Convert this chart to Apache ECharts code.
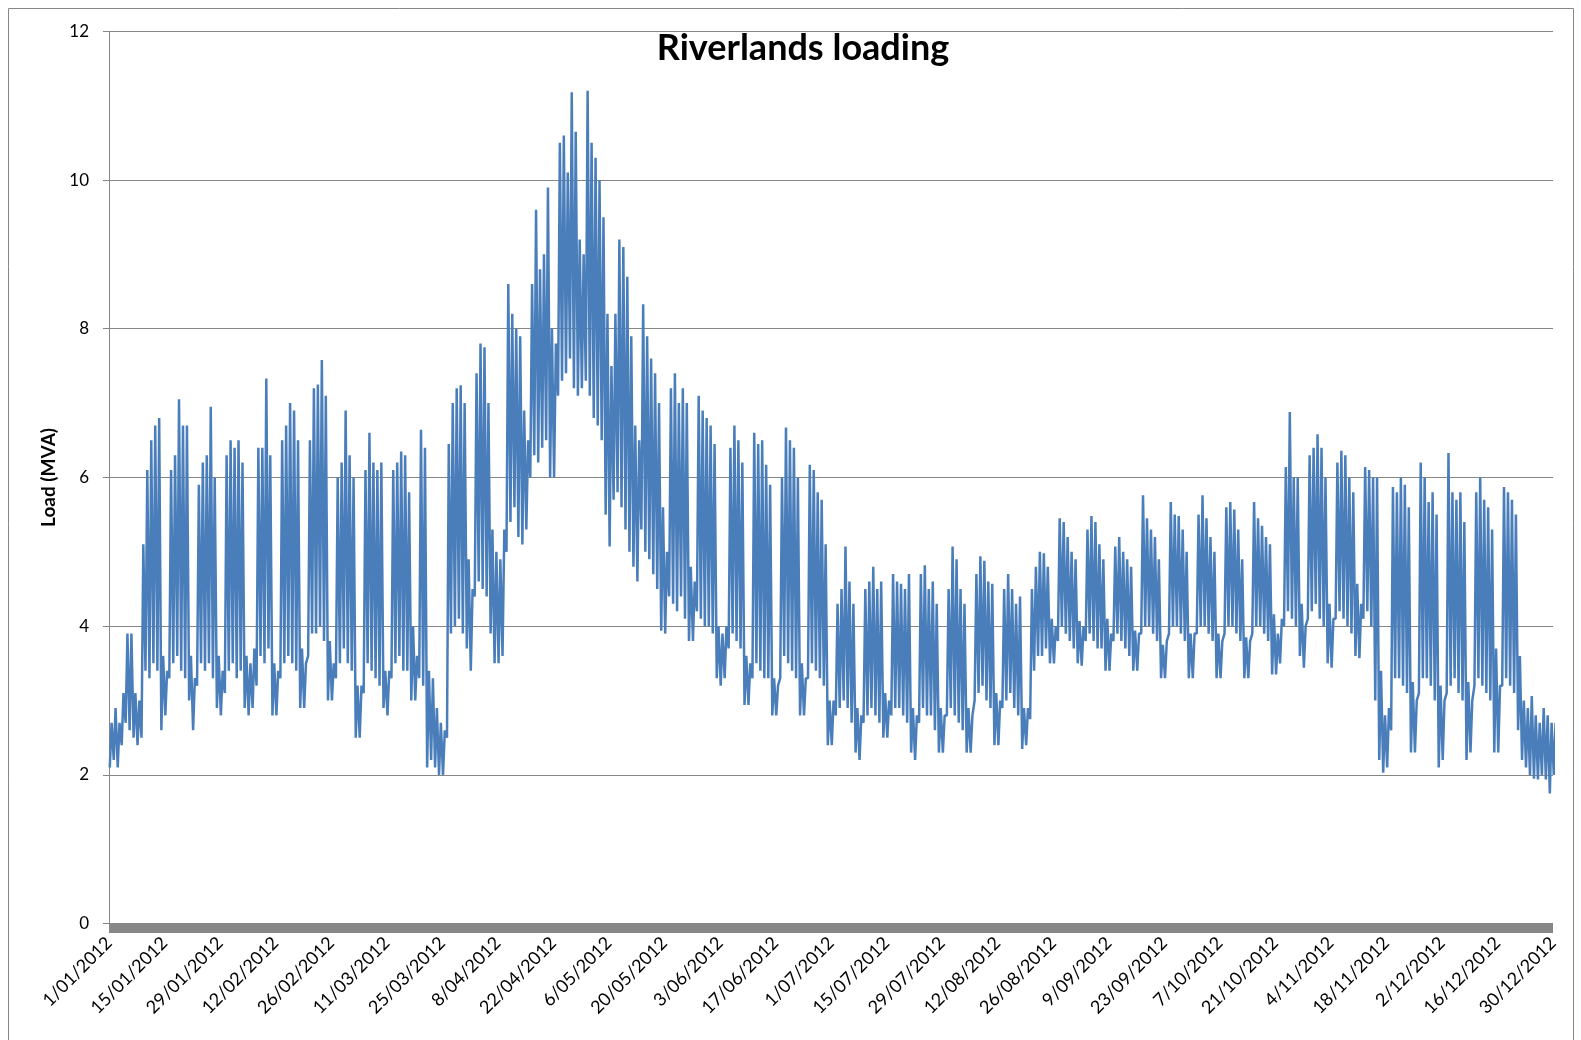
<!DOCTYPE html>
<html>
<head>
<meta charset="utf-8">
<script src="https://cdn.jsdelivr.net/npm/echarts@6/dist/echarts.min.js"></script>
<style>
html,body{margin:0;padding:0;background:#fff;}
#c{width:1581px;height:1040px;}
</style>
</head>
<body>
<div id="c"></div>
<script>
// Day index 0 = 1 Jan 2012. Daily low / high load (MVA).
const dailyLow = [
2.1,2.2,2.1,2.4,2.7,2.6,2.5,
2.4,2.5,3.4,3.3,3.5,3.4,2.6,
2.8,3.3,3.5,3.6,3.4,3.3,3.0,
2.6,3.2,3.5,3.4,3.5,3.3,2.9,
2.8,3.1,3.4,3.5,3.3,3.4,2.9,
2.8,2.9,3.2,3.6,3.5,3.7,2.8,
2.8,3.3,3.5,3.6,3.5,3.4,2.9,
2.9,3.6,3.9,3.9,4.0,3.8,3.0,
3.0,3.3,3.5,3.7,3.5,3.4,2.5,
2.5,3.1,3.5,3.4,3.3,3.2,2.9,
2.8,3.3,3.5,3.6,3.4,3.4,3.0,
3.0,3.3,3.2,2.1,2.2,2.1,2.0,
2.0,2.5,3.9,4.0,4.1,3.9,3.7,
3.4,4.4,4.6,4.5,4.4,3.9,3.5,
3.5,3.6,5.0,5.4,5.6,5.2,5.1,
5.3,6.0,6.3,6.2,6.4,6.5,6.0,
6.0,7.1,7.3,7.4,7.6,7.2,7.1,
7.2,7.3,7.1,6.8,6.7,6.5,5.5,
5.07,5.7,5.8,5.6,5.3,5.0,4.8,
4.6,5.3,5.0,4.9,4.7,4.5,3.94,
3.9,4.4,4.3,4.2,4.4,4.1,3.8,
3.8,4.2,4.1,4.0,4.0,3.9,3.3,
3.2,3.3,3.7,3.9,3.8,3.7,2.94,
2.94,3.3,3.5,3.4,3.3,3.3,2.8,
2.8,3.3,3.6,3.5,3.4,3.3,2.8,
2.8,3.3,3.5,3.4,3.3,3.2,2.4,
2.4,2.8,2.9,3.0,2.9,2.7,2.3,
2.2,2.7,2.8,2.9,2.8,2.7,2.5,
2.5,2.8,2.9,2.9,2.8,2.7,2.3,
2.2,2.7,2.9,2.8,2.8,2.6,2.3,
2.3,2.8,2.9,2.8,2.7,2.6,2.3,
2.3,3.0,3.1,3.2,3.0,2.9,2.4,
2.4,2.9,3.0,3.1,2.9,2.8,2.35,
2.4,2.75,3.4,3.6,3.6,3.7,3.5,
3.5,3.8,4.0,3.9,3.8,3.7,3.5,
3.47,3.8,3.9,3.8,3.7,3.7,3.4,
3.4,3.8,3.9,3.8,3.7,3.6,3.4,
3.4,3.9,4.0,4.0,3.9,3.8,3.3,
3.3,3.9,4.0,4.0,3.9,3.8,3.3,
3.3,3.9,4.0,4.0,3.9,3.8,3.3,
3.3,3.9,4.0,4.0,3.9,3.8,3.3,
3.3,3.9,4.0,4.0,3.9,3.8,3.35,
3.35,3.5,4.0,4.2,4.1,4.0,3.6,
3.44,4.1,4.2,4.3,4.1,4.0,3.5,
3.44,4.1,4.2,4.1,4.0,3.9,3.6,
3.57,4.1,4.2,4.0,3.0,2.2,2.03,
2.1,2.6,3.3,3.3,3.2,3.1,2.3,
2.3,3.1,3.3,3.3,3.2,3.0,2.1,
2.2,3.1,3.2,3.3,3.1,3.0,2.2,
2.3,3.2,3.3,3.2,3.1,3.0,2.3,
2.3,3.2,3.3,3.2,3.1,2.6,2.2,
2.1,2.0,1.95,1.94,2.0,1.94,1.75,
2.0
];
const dailyHigh = [
2.7,2.9,2.7,3.1,3.9,3.9,3.1,
3.0,5.1,6.1,6.5,6.7,6.8,3.6,
3.4,6.1,6.3,7.05,6.7,6.7,3.6,
3.3,5.9,6.2,6.3,6.95,6.0,3.6,
3.4,6.3,6.5,6.4,6.5,6.2,3.6,
3.5,3.7,6.4,6.4,7.33,6.3,3.5,
3.4,6.5,6.7,7.0,6.9,6.5,3.7,
3.5,6.5,7.2,7.25,7.58,7.1,3.8,
3.5,6.0,6.2,6.9,6.3,6.0,3.2,
3.2,6.1,6.6,6.2,6.1,6.2,3.4,
3.4,6.1,6.2,6.35,6.3,5.8,4.0,
3.6,6.64,6.4,3.4,3.3,2.9,2.7,
2.6,6.45,7.0,7.2,7.24,7.0,4.9,
4.5,7.4,7.8,7.75,7.0,5.3,5.0,
4.9,5.3,8.6,8.2,8.0,7.9,6.9,
6.5,8.6,9.6,8.8,9.0,9.9,8.0,
7.8,10.5,10.6,10.1,11.18,10.65,9.2,
9.0,11.2,10.5,10.3,10.0,9.5,8.2,
7.5,8.2,9.2,9.1,8.7,7.9,6.7,
6.5,8.33,7.9,7.6,7.4,7.0,5.6,
5.0,7.2,7.4,7.0,7.2,7.0,4.8,
4.6,7.1,6.9,6.8,6.7,6.45,4.0,
3.9,4.0,6.4,6.7,6.5,6.2,3.6,
3.5,6.6,6.45,6.5,6.17,5.9,3.3,
3.2,6.0,6.67,6.5,6.4,6.0,3.5,
3.3,6.17,6.1,5.8,5.7,5.1,3.0,
3.0,4.3,4.5,5.07,4.6,4.3,2.9,
2.8,4.5,4.6,4.8,4.5,4.6,3.1,
3.0,4.7,4.6,4.57,4.5,4.7,2.9,
2.8,4.7,4.82,4.5,4.6,4.3,2.9,
2.8,4.5,5.07,4.9,4.5,4.3,2.9,
2.8,4.7,4.94,4.88,4.6,4.57,3.1,
3.0,4.5,4.7,4.5,4.3,4.4,2.9,
2.9,4.5,4.8,5.0,4.98,4.8,4.1,
4.0,5.45,5.4,5.2,5.0,4.9,4.07,
4.0,5.3,5.48,5.4,5.1,4.9,4.1,
3.9,5.07,5.2,5.0,4.9,4.8,3.94,
3.9,5.76,5.45,5.3,5.2,4.9,3.75,
3.8,5.67,5.5,5.48,5.3,5.0,3.9,
3.9,5.5,5.76,5.45,5.2,5.0,3.9,
3.8,5.6,5.67,5.57,5.3,4.9,3.85,
3.8,5.67,5.45,5.35,5.2,5.1,4.16,
3.9,4.1,6.14,6.88,6.0,6.0,4.3,
4.0,6.3,6.4,6.58,6.4,6.0,4.3,
4.1,6.2,6.36,6.3,6.0,5.8,4.57,
4.3,6.14,6.1,6.0,6.0,3.4,2.8,
2.9,5.87,5.8,6.0,5.9,5.6,3.25,
3.0,6.2,6.0,5.67,5.8,5.5,3.2,
3.0,6.33,5.8,5.7,5.8,5.4,3.25,
3.0,5.8,6.0,5.7,5.6,5.3,3.7,
3.2,5.87,5.8,5.7,5.5,3.6,3.0,
2.9,3.06,2.8,2.7,2.9,2.8,2.7,
2.7
];
const tickLabels = ['1/01/2012','15/01/2012','29/01/2012','12/02/2012','26/02/2012','11/03/2012','25/03/2012','8/04/2012','22/04/2012','6/05/2012','20/05/2012','3/06/2012','17/06/2012','1/07/2012','15/07/2012','29/07/2012','12/08/2012','26/08/2012','9/09/2012','23/09/2012','7/10/2012','21/10/2012','4/11/2012','18/11/2012','2/12/2012','16/12/2012','30/12/2012'];
const titleText = 'Riverlands loading';
const yName = 'Load (MVA)';

// Each day: night low then daytime high
const seriesData = [];
for (let d = 0; d < dailyLow.length; d++) {
  seriesData.push([d + 0.2, dailyLow[d]]);
  seriesData.push([d + 0.65, dailyHigh[d]]);
}

const chart = echarts.init(document.getElementById('c'), null, {renderer: 'canvas'});
const FONT = 'Lato, "Open Sans", sans-serif';
chart.setOption({
  animation: false,
  backgroundColor: '#fff',
  title: {
    text: titleText,
    left: 798, top: 25, textAlign: 'center',
    textStyle: {fontFamily: FONT, fontWeight: 'bold', fontSize: 36, color: '#000'}
  },
  graphic: [{
    type: 'rect', silent: true, z: -1,
    shape: {x: 8.5, y: 8.5, width: 1565, height: 1060},
    style: {fill: 'none', stroke: '#868686', lineWidth: 1}
  }],
  grid: {left: 109, right: 28, top: 31.3, bottom: 116.4, containLabel: false},
  xAxis: {
    type: 'value', min: 0, max: 364, interval: 14,
    offset: 4.5,
    axisLine: {show: true, onZero: false, lineStyle: {color: '#878787', width: 9, cap: 'butt'}},
    axisTick: {show: false},
    splitLine: {show: false},
    axisLabel: {
      rotate: 45, margin: 12, fontSize: 18, fontFamily: FONT, color: '#000',
      formatter: v => tickLabels[Math.round(v / 14)] || ''
    }
  },
  yAxis: {
    type: 'value', min: 0, max: 12, interval: 2,
    name: yName, nameLocation: 'middle', nameGap: 51, nameRotate: 90,
    nameTextStyle: {fontFamily: FONT, fontWeight: 'bold', fontSize: 19, color: '#000'},
    axisLine: {show: true, lineStyle: {color: '#868686', width: 1}},
    axisTick: {show: true, length: 6, lineStyle: {color: '#868686'}},
    splitLine: {show: true, lineStyle: {color: '#868686', width: 1}},
    axisLabel: {margin: 20, fontSize: 17, fontFamily: FONT, color: '#000'}
  },
  series: [{
    type: 'line', data: seriesData, showSymbol: false, symbol: 'none',
    lineStyle: {color: '#4a7ebb', width: 2.5}, itemStyle: {color: '#4a7ebb'},
    clip: true, silent: true
  }]
});
</script>
</body>
</html>
